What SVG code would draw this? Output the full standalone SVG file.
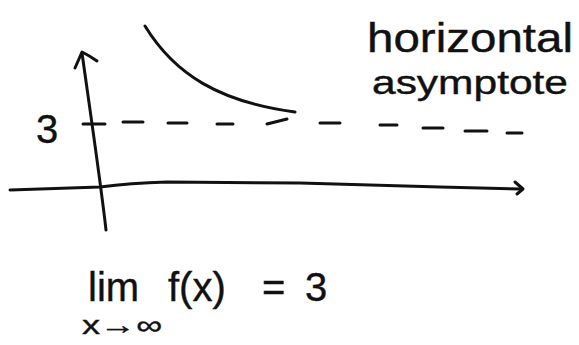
<svg xmlns="http://www.w3.org/2000/svg" width="579" height="345" viewBox="0 0 579 345">
<style>
.ink{fill:none;stroke:#111;stroke-width:3;stroke-linecap:round;stroke-linejoin:round}
.dash{fill:none;stroke:#111;stroke-width:3;stroke-linecap:round}
.hand{font-family:"Liberation Sans","DejaVu Sans",sans-serif;fill:#111;stroke:#111;stroke-width:0.4}
</style>
<rect width="579" height="345" fill="#fff"/>
<g id="connectors">
<g id="y-axis">
<path class="ink" d="M106,230 C101,185 90,110 82,53"/>
<path class="ink" d="M75,68 L82,52 Q90,56 97,61"/>
</g>
<g id="x-axis">
<path class="ink" d="M10,190 L100,187 Q130,183 167,182 L300,183 L440,187 L522,189"/>
<path class="ink" d="M515,182 L523,189 L517,194"/>
</g>
</g>
<g id="curve">
<path class="ink" d="M145,26 C175,75 220,102 295,112"/>
</g>
<g id="asymptote-line">
<path class="dash" d="M83,124 H105 M123,122 H143 M168,123 H187 M217,124 H233 M267,124 L287,119 M320,123 H340 M380,125 H397 M423,128 H443 M465,131 H487 M507,133 H522"/>
</g>
<g id="label-3">
<text class="hand" x="36" y="143" font-size="40">3</text>
</g>
<g id="label-asymptote">
<text class="hand" x="367" y="52" font-size="40" textLength="206" lengthAdjust="spacingAndGlyphs">horizontal</text>
<text class="hand" x="372" y="94" font-size="34" textLength="196" lengthAdjust="spacingAndGlyphs">asymptote</text>
</g>
<g id="limit">
<text class="hand" font-size="40" y="301"><tspan x="88">lim</tspan><tspan x="168">f(x)</tspan><tspan x="262">=</tspan><tspan x="305">3</tspan></text>
<text class="hand" font-size="26" x="82" y="334" textLength="80" lengthAdjust="spacingAndGlyphs">x→∞</text>
</g>
</svg>
